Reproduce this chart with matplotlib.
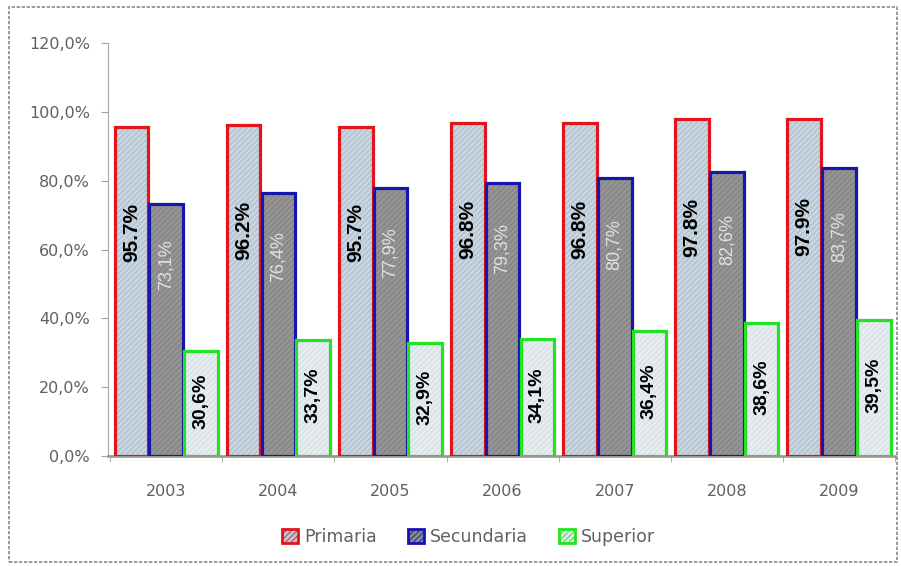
import matplotlib
matplotlib.use("Agg")
import matplotlib.pyplot as plt
from matplotlib.patches import Patch, Rectangle
import numpy as np

years = ["2003", "2004", "2005", "2006", "2007", "2008", "2009"]
primaria = [95.7, 96.2, 95.7, 96.8, 96.8, 97.8, 97.9]
secundaria = [73.1, 76.4, 77.9, 79.3, 80.7, 82.6, 83.7]
superior = [30.6, 33.7, 32.9, 34.1, 36.4, 38.6, 39.5]
prim_labels = ["95.7%", "96.2%", "95.7%", "96.8%", "96.8%", "97.8%", "97.9%"]
sec_labels = ["73,1%", "76,4%", "77,9%", "79,3%", "80,7%", "82,6%", "83,7%"]
sup_labels = ["30,6%", "33,7%", "32,9%", "34,1%", "36,4%", "38,6%", "39,5%"]
series_names = ["Primaria", "Secundaria", "Superior"]
yticks = [0, 20, 40, 60, 80, 100, 120]

plt.rcParams['font.family'] = ['DejaVu Sans']
plt.rcParams['hatch.linewidth'] = 0.6

fig = plt.figure(figsize=(9.01, 5.66), dpi=100)
ax = fig.add_axes([108/901, 1-456/566, (895-108)/901, (456-43)/566])

x = np.arange(len(years))
w = 0.30
step = 0.31
fills = ["#b8c8d4", "#8a8a8a", "#dde4ea"]
hatchc = ["#dfe7ee", "#a2a2a2", "#f4f7f9"]
edges = ["#e3151c", "#1515b0", "#22e322"]
data = [primaria, secundaria, superior]
labels = [prim_labels, sec_labels, sup_labels]
frac = [0.68, 0.76, 0.52]
lcol = ["black", "#e2e2e2", "black"]
lweight = ["bold", "normal", "bold"]
lsize = [15, 13, 14]

for i in range(3):
    pos = x + (i - 1) * step
    ax.bar(pos, data[i], width=w, color=fills[i], edgecolor=hatchc[i],
           hatch="//////", linewidth=0, zorder=2)
    ax.bar(pos, data[i], width=w, fill=False, edgecolor=edges[i],
           linewidth=2.3, zorder=3)
    for p, v, t in zip(pos, data[i], labels[i]):
        ax.text(p, v * frac[i], t, rotation=90, ha="center", va="center",
                color=lcol[i], fontweight=lweight[i], fontsize=lsize[i],
                family="Liberation Sans", zorder=4)

ax.set_xlim(-0.52, 6.46)
ax.set_ylim(0, 120)
ax.set_yticks(yticks)
ax.set_yticklabels([f"{v:.1f}".replace(".", ",") + "%" for v in yticks])
ax.set_xticks(x)
ax.set_xticklabels(years)
ax.set_xticks(np.arange(-0.5, 7, 1.0), minor=True)
ax.tick_params(axis="x", which="major", length=0, pad=20, labelsize=11.5,
               labelcolor="#606060")
ax.tick_params(axis="x", which="minor", length=4, color="#a0a0a0", direction="out")
ax.tick_params(axis="y", length=5, color="#a0a0a0", labelsize=11.5,
               labelcolor="#606060", pad=8)
for s in ["top", "right"]:
    ax.spines[s].set_visible(False)
ax.spines["left"].set_color("#a8a8a8")
ax.spines["bottom"].set_color("#9a9a9a")
ax.spines["bottom"].set_linewidth(2)

handles = [Patch(facecolor=fills[i], edgecolor=edges[i], linewidth=2,
                 hatch="//////") for i in range(3)]
for h, hc in zip(handles, hatchc):
    pass
fig.legend(handles, series_names, loc="center", bbox_to_anchor=(0.52, 1-537/566),
           ncol=3, frameon=False, handlelength=0.9, handleheight=0.9,
           handletextpad=0.35, columnspacing=1.8,
           prop={"size": 12.5}, labelcolor="#606060")

fig.patches.append(Rectangle((9/901, 1-562/566), (897-9)/901, (562-7)/566,
                             transform=fig.transFigure, fill=False,
                             edgecolor="#8a8a8a", linewidth=1.2,
                             linestyle=(0, (2, 1))))

fig.savefig("out.png", dpi=100)
